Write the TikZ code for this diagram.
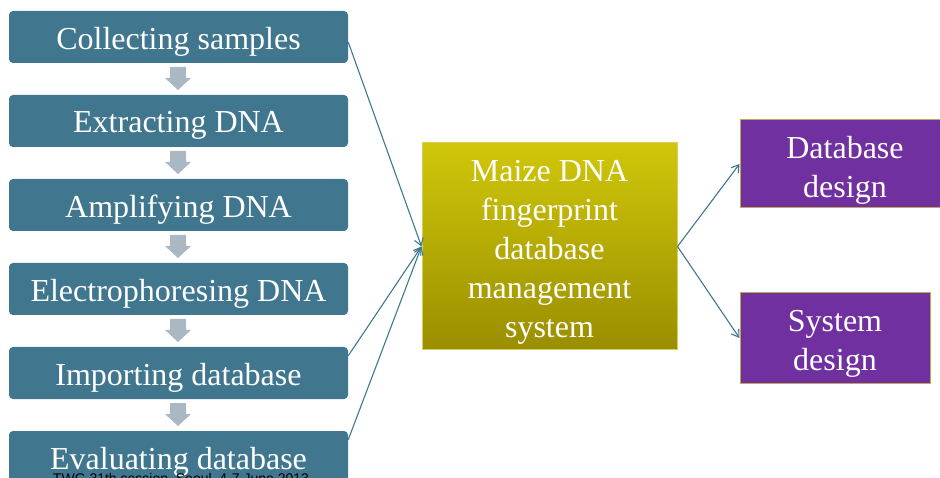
\documentclass[tikz,border=0pt]{standalone}
\usepackage{fontspec}
\setmainfont{Liberation Serif}
\newfontfamily\footfont{Liberation Sans}
\usetikzlibrary{arrows.meta,calc}
\definecolor{stepblue}{HTML}{40778F}
\definecolor{arrgray}{HTML}{A9B8C2}
\definecolor{linkblue}{HTML}{3F7891}
\definecolor{ytop}{HTML}{D0C70A}
\definecolor{ybot}{HTML}{9A8E00}
\definecolor{yborder}{HTML}{D8CF5A}
\definecolor{dpurple}{HTML}{7030A0}
\definecolor{pborder}{HTML}{C0A850}
\tikzset{
  stepbox/.style={draw=none, fill=stepblue, rounded corners=4pt, minimum width=339pt, minimum height=52pt,
    inner sep=0pt},
  centerbox/.style={draw=yborder, line width=1pt, top color=ytop, bottom color=ybot, minimum width=255pt, minimum height=207pt,
    inner sep=0pt},
  designbox/.style={draw=pborder, line width=1pt, fill=dpurple, inner sep=0pt},
  boxtext/.style={text=white, align=center, inner sep=0pt, font=\fontsize{32}{39}\selectfont},
  link/.style={draw=linkblue, line width=1.1pt, -{Straight Barb[length=7pt,width=9pt]}},
  downarrow/.style={fill=arrgray, draw=none}
}
\begin{document}
\begin{tikzpicture}[x=1pt,y=-1pt]
\useasboundingbox (0,0) rectangle (940,478);
\clip (0,0) rectangle (940,478);
\fill[white] (0,0) rectangle (940,478);
% left step boxes
\node[stepbox] (b1) at (178.5,37) {};
\node[stepbox] (b2) at (178.5,121) {};
\node[stepbox] (b3) at (178.5,205) {};
\node[stepbox] (b4) at (178.5,289) {};
\node[stepbox] (b5) at (178.5,373) {};
\node[stepbox] (b6) at (178.5,457) {};
\node[boxtext] (t1) at ($(b1.center)+(0,4.5)$) {Collecting samples};
\node[boxtext] (t2) at ($(b2.center)+(0,4.5)$) {Extracting DNA};
\node[boxtext] (t3) at ($(b3.center)+(0,4.5)$) {Amplifying DNA};
\node[boxtext] (t4) at ($(b4.center)+(0,4.5)$) {Electrophoresing DNA};
\node[boxtext] (t5) at ($(b5.center)+(0,4.5)$) {Importing database};
\node[boxtext] (t6) at ($(b6.center)+(0,4.5)$) {Evaluating database};
% down arrows
\foreach \y in {67,151,235,319,403}{
  \fill[downarrow] (170,\y) -- (186,\y) -- (186,\y+11) -- (191,\y+11) -- (178,\y+23) -- (165,\y+11) -- (170,\y+11) -- cycle;
}
% center box
\node[centerbox] (c) at (549.5,246.5) {};
\node[boxtext] (ct) at ($(c.center)+(0,5.5)$) {Maize DNA\\fingerprint\\database\\management\\system};
% design boxes
\node[designbox, minimum width=210pt, minimum height=88pt] (d1) at (845,164) {};
\node[boxtext] (d1t) at ($(d1.center)+(0,6)$) {Database\\design};
\node[designbox, minimum width=190pt, minimum height=90pt] (d2) at (835,338) {};
\node[boxtext] (d2t) at ($(d2.center)+(0,6)$) {System\\design};
% connectors
\draw[link] ($(b1.east)+(0,5)$) -- (c.west);
\draw[link] ($(b5.north east)+(0,9)$) -- (c.west);
\draw[link] ($(b6.north east)+(0,9)$) -- (c.west);
\draw[link] (c.east) -- (d1.west);
\draw[link] (c.east) -- (d2.west);
% footer
\node[anchor=base, font=\footfont\fontsize{14}{16}\selectfont, text=black] (foot) at (181,483) {TWG 31th session, Seoul, 4-7 June 2013};
\end{tikzpicture}
\end{document}
